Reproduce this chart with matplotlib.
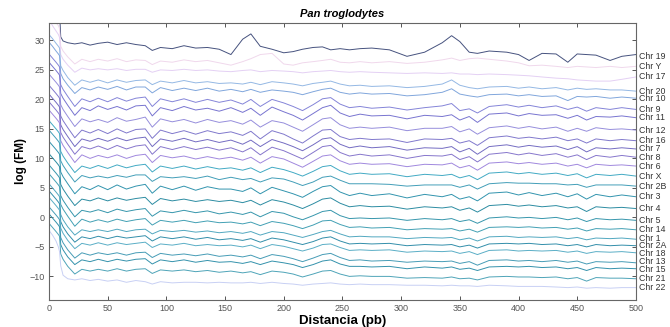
import numpy as np
import matplotlib
matplotlib.use('Agg')
import matplotlib.pyplot as plt

plt.rcParams['font.family'] = ['Liberation Sans', 'DejaVu Sans']

# posiciones (pb) donde se leyeron los valores
distancia = [0, 3, 6, 8, 9, 10, 12, 16, 22, 28,
             35, 42, 50, 58, 66, 74, 82, 88, 95, 105,
             115, 125, 135, 145, 155, 165, 172, 180, 190, 200,
             208, 216, 225, 233, 240, 248, 256, 265, 275, 290,
             305, 320, 335, 343, 350, 358, 365, 375, 390, 400,
             409, 420, 432, 442, 450, 458, 466, 478, 488, 500]

cromosomas = ['Chr 19', 'Chr Y', 'Chr 17', 'Chr 20', 'Chr 10', 'Chr 9', 'Chr 11',
              'Chr 12', 'Chr 16', 'Chr 7', 'Chr 8', 'Chr 6', 'Chr X', 'Chr 2B',
              'Chr 3', 'Chr 4', 'Chr 5', 'Chr 14', 'Chr 1', 'Chr 2A', 'Chr 18',
              'Chr 13', 'Chr 15', 'Chr 21', 'Chr 22']
# nivel final de cada curva
nivel_final = [27.3, 25.6, 23.8, 21.4, 20.2, 18.3, 16.9,
               14.8, 13.0, 11.6, 10.2, 8.7, 7.0, 5.3,
               3.5, 1.5, -0.5, -2.1, -3.7, -4.8, -6.0,
               -7.7, -8.7, -10.4, -11.9]
# altura de las etiquetas (un poco separadas donde se amontonan)
etiqueta_y = [27.3, 25.6, 23.8, 21.4, 20.1, 18.3, 16.9,
              14.8, 13.0, 11.6, 10.2, 8.7, 7.0, 5.3,
              3.5, 1.5, -0.5, -2.1, -3.5, -4.8, -6.1,
              -7.5, -8.8, -10.4, -11.9]
colores = ['#46527e', '#f0d8ec', '#e4d0f4', '#94b8e4', '#80a6dc', '#8484d8', '#7874d0',
           '#968edc', '#8078cc', '#746cc2', '#8676cc', '#a088de', '#42aac4', '#429eb8',
           '#3294ae', '#2c8ca2', '#3696ac', '#42a0b4', '#52a8c0', '#328eaa', '#5aaec6',
           '#469cb6', '#3492ac', '#4ea4b8', '#c8d0f4']

# log(FM) de cada curva, medido respecto a su nivel final
r_chr19 = [10.7, 9.7, 8.7, 8.2, 7.7, 3.3, 2.6, 2.3, 2.1, 2.3,
           1.9, 2.2, 2.4, 2.0, 2.3, 2.0, 1.8, 1.0, 1.5, 1.3,
           1.8, 1.4, 1.5, 1.2, 0.3, 2.9, 3.8, 1.7, 1.2, 0.6,
           0.8, 1.2, 1.5, 1.6, 1.1, 1.3, 1.1, 1.3, 1.4, 1.1,
           0.0, 0.7, 2.3, 3.5, 2.5, 0.7, 0.5, 0.9, 0.7, 0.3,
           -0.7, 0.5, 0.4, -1.0, 0.4, 0.3, 0.2, -0.7, 0.0, 0.3]
r_chrY = [9.4, 8.4, 7.4, 6.9, 6.4, 3.4, 2.6, 1.6, 0.4, 1.2,
          0.8, 1.2, 0.9, 1.3, 0.8, 1.1, 1.0, 0.3, 0.9, 0.7,
          1.1, 0.8, 1.0, 0.6, 0.2, 0.8, 1.3, 2.0, 2.2, 0.4,
          0.2, 0.6, 0.8, 1.0, 1.2, 0.7, 0.6, 0.8, 0.6, 0.8,
          0.5, 0.7, 1.1, 1.4, 1.0, 1.3, 1.4, 1.2, 0.9, 0.6,
          0.1, 0.2, 0.0, -0.2, 0.0, -0.1, -0.2, 0.0, -0.2, 0.0]
r_chr17 = [9.7, 8.7, 7.8, 7.2, 6.7, 3.8, 3.0, 2.0, 0.8, 1.5,
           1.2, 1.4, 1.2, 1.4, 1.1, 1.3, 1.3, 0.8, 1.2, 1.1,
           1.3, 1.1, 1.2, 1.0, 0.9, 1.1, 1.2, 0.9, 1.1, 1.0,
           0.9, 0.7, 0.9, 1.0, 1.1, 0.9, 0.8, 0.9, 0.8, 0.7,
           0.6, 0.7, 0.6, 0.7, 0.5, 0.5, 0.4, 0.5, 0.4, 0.3,
           0.2, 0.0, -0.2, -0.3, -0.5, -0.6, -0.7, -0.7, -0.4, 0.0]
r_chr20 = [9.6, 8.9, 8.1, 7.6, 7.3, 4.3, 3.5, 2.3, 1.0, 1.9,
           1.5, 1.9, 1.4, 1.9, 1.5, 1.8, 1.9, 1.1, 1.7, 1.4,
           1.8, 1.4, 1.6, 1.3, 1.4, 1.2, 1.5, 1.1, 1.6, 1.4,
           1.2, 0.9, 1.3, 1.5, 1.7, 1.2, 0.9, 1.0, 0.8, 0.9,
           0.6, 0.8, 1.2, 1.9, 1.0, 0.6, 0.4, 0.7, 0.8, 0.5,
           0.7, 0.4, 0.6, 0.2, 0.5, 0.3, 0.4, 0.2, 0.2, 0.0]
r_chr10 = [9.5, 8.8, 8.0, 7.5, 7.2, 4.2, 3.3, 2.2, 0.8, 1.8,
           1.4, 1.9, 1.5, 2.0, 1.4, 1.9, 1.9, 0.9, 1.8, 1.3,
           1.7, 1.3, 1.7, 1.2, 1.5, 1.1, 1.5, 1.0, 1.4, 1.2,
           1.0, 0.6, 1.1, 1.5, 1.7, 1.0, 0.7, 0.9, 0.7, 0.8,
           0.4, 0.6, 1.0, 1.6, 0.7, 0.4, 0.2, 0.6, 0.7, 0.4,
           0.6, 0.3, 0.4, -0.4, 0.3, 0.2, 0.3, 0.0, 0.2, 0.0]
r_chr9 = [9.4, 8.7, 8.0, 7.5, 7.2, 4.2, 3.4, 2.2, 0.5, 1.8,
          1.3, 1.9, 1.3, 2.0, 1.4, 1.9, 2.1, 0.5, 1.8, 1.3,
          1.8, 1.2, 1.7, 1.2, 1.6, 0.9, 1.7, 0.5, 1.7, 1.1,
          0.5, -0.2, 0.8, 1.8, 2.0, 0.9, 0.3, 0.5, 0.2, 0.4,
          -0.1, 0.3, 0.6, 1.0, -0.2, 0.1, -0.6, 0.5, 0.8, 0.4,
          0.7, 0.3, 0.6, 0.0, 0.4, -0.3, 0.3, 0.0, 0.3, 0.0]
r_chr11 = [9.4, 8.7, 8.0, 7.5, 7.2, 4.1, 3.3, 2.1, 0.4, 1.7,
           1.2, 2.0, 1.4, 1.9, 1.3, 2.0, 2.1, 0.3, 1.7, 1.2,
           1.9, 1.3, 1.6, 1.1, 1.7, 0.9, 1.6, 0.4, 1.8, 1.0,
           0.4, -0.4, 0.7, 1.7, 2.1, 0.8, 0.2, 0.6, 0.3, 0.4,
           -0.2, 0.4, 0.2, 0.5, -0.4, 0.2, -0.8, 0.6, 0.8, 0.3,
           0.7, 0.4, 0.5, -0.1, 0.4, -0.4, 0.2, 0.1, 0.3, 0.0]
r_chr12 = [9.5, 8.8, 8.1, 7.6, 7.3, 4.3, 3.5, 2.3, 0.6, 1.9,
           1.4, 1.8, 1.3, 2.1, 1.5, 1.8, 2.2, 0.5, 1.9, 1.4,
           1.8, 1.2, 1.8, 1.3, 1.6, 1.0, 1.7, 0.5, 1.6, 1.2,
           0.5, -0.2, 0.9, 1.9, 2.1, 0.9, 0.3, 0.5, 0.3, 0.5,
           -0.1, 0.3, 0.3, 0.6, -0.3, 0.2, -0.7, 0.4, 0.7, 0.3,
           0.6, 0.2, 0.5, -0.2, 0.3, -0.2, 0.4, 0.1, 0.2, 0.0]
r_chr16 = [9.4, 8.7, 8.0, 7.5, 7.2, 4.2, 3.4, 2.2, 0.5, 1.8,
           1.3, 1.9, 1.2, 2.0, 1.3, 1.9, 2.0, 0.4, 1.8, 1.2,
           1.7, 1.1, 1.7, 1.2, 1.5, 0.9, 1.6, 0.3, 1.7, 1.1,
           0.3, -0.4, 0.8, 1.8, 1.9, 0.7, 0.2, 0.4, 0.2, 0.3,
           -0.3, 0.3, 0.2, 0.4, -0.4, 0.0, -0.8, 0.5, 0.8, 0.4,
           0.6, 0.3, 0.6, 0.0, 0.3, -0.4, 0.3, 0.0, 0.2, 0.0]
r_chr7 = [9.3, 8.6, 7.9, 7.4, 7.1, 4.1, 3.3, 2.1, 0.4, 1.7,
          1.3, 1.8, 1.3, 1.9, 1.4, 1.8, 2.0, 0.4, 1.7, 1.3,
          1.8, 1.2, 1.6, 1.1, 1.5, 0.8, 1.5, 0.4, 1.6, 1.0,
          0.4, -0.3, 0.7, 1.7, 1.9, 0.8, 0.2, 0.5, 0.2, 0.4,
          -0.2, 0.2, 0.1, 0.4, -0.5, 0.1, -0.9, 0.4, 0.7, 0.3,
          0.6, 0.3, 0.5, -0.1, 0.4, -0.5, 0.2, 0.0, 0.2, 0.0]
r_chr8 = [9.4, 8.7, 8.0, 7.5, 7.2, 4.2, 3.4, 2.2, 0.5, 1.8,
          1.4, 1.9, 1.3, 2.0, 1.4, 1.9, 2.1, 0.5, 1.8, 1.3,
          1.8, 1.3, 1.7, 1.2, 1.6, 0.9, 1.6, 0.4, 1.7, 1.1,
          0.4, -0.3, 0.8, 1.8, 2.0, 0.8, 0.2, 0.5, 0.2, 0.4,
          -0.2, 0.3, 0.2, 0.5, -0.4, 0.1, -0.8, 0.5, 0.8, 0.4,
          0.7, 0.3, 0.6, 0.0, 0.4, -0.4, 0.3, 0.0, 0.3, 0.0]
r_chr6 = [9.5, 8.8, 8.1, 7.6, 7.3, 4.3, 3.5, 2.3, 0.6, 1.9,
          1.3, 1.8, 1.4, 1.9, 1.3, 1.8, 2.0, 0.6, 1.8, 1.4,
          1.7, 1.2, 1.6, 1.2, 1.5, 1.0, 1.5, 0.5, 1.6, 1.2,
          0.5, -0.2, 0.8, 1.7, 1.9, 0.9, 0.3, 0.5, 0.3, 0.4,
          -0.1, 0.3, 0.2, 0.5, -0.3, 0.1, -0.7, 0.5, 0.7, 0.4,
          0.6, 0.3, 0.5, 0.0, 0.3, -0.3, 0.3, 0.1, 0.2, 0.0]
r_chrX = [9.4, 8.7, 8.0, 7.5, 7.2, 4.2, 3.4, 2.2, 0.6, 1.7,
          1.3, 1.8, 1.3, 1.9, 1.4, 1.8, 2.0, 0.7, 1.7, 1.3,
          1.7, 1.2, 1.6, 1.2, 1.4, 1.0, 1.4, 0.6, 1.5, 1.1,
          0.6, 0.0, 0.8, 1.6, 1.8, 0.9, 0.3, 0.5, 0.3, 0.4,
          -0.1, 0.3, 0.1, 0.3, -0.3, 0.1, -0.6, 0.5, 0.7, 0.4,
          0.6, 0.3, 0.5, 0.1, 0.4, -0.3, 0.3, 0.1, 0.3, 0.0]
r_chr2B = [9.5, 8.8, 8.1, 7.6, 7.3, 4.3, 3.5, 2.3, 0.7, 1.8,
           1.4, 1.7, 1.4, 1.8, 1.5, 1.9, 1.9, 0.8, 1.6, 1.4,
           1.6, 1.3, 1.7, 1.1, 1.5, 1.1, 1.3, 0.7, 1.4, 1.2,
           0.7, 0.1, 0.7, 1.5, 1.7, 1.0, 0.4, 0.4, 0.4, 0.3,
           0.0, 0.2, 0.2, 0.2, -0.2, 0.2, -0.5, 0.4, 0.6, 0.5,
           0.5, 0.4, 0.4, 0.2, 0.3, -0.2, 0.2, 0.2, 0.2, 0.0]
r_chr3 = [9.4, 8.7, 8.0, 7.5, 7.2, 4.2, 3.4, 2.2, 0.5, 1.7,
          1.2, 1.9, 1.2, 2.0, 1.3, 1.8, 2.1, 0.6, 1.8, 1.2,
          1.8, 1.1, 1.7, 1.3, 1.3, 0.9, 1.5, 0.5, 1.6, 1.0,
          0.5, -0.1, 0.9, 1.7, 1.9, 0.8, 0.2, 0.6, 0.2, 0.5,
          -0.2, 0.4, 0.0, 0.4, -0.4, 0.0, -0.7, 0.6, 0.8, 0.3,
          0.7, 0.2, 0.6, 0.0, 0.5, -0.4, 0.4, 0.0, 0.3, 0.0]
r_chr4 = [9.3, 8.6, 7.9, 7.4, 7.1, 4.1, 3.3, 2.1, 0.5, 1.6,
          1.3, 1.8, 1.3, 1.8, 1.4, 1.7, 1.9, 0.7, 1.7, 1.3,
          1.6, 1.2, 1.5, 1.2, 1.4, 1.0, 1.4, 0.6, 1.5, 1.1,
          0.6, 0.0, 0.8, 1.6, 1.8, 0.9, 0.3, 0.5, 0.3, 0.4,
          -0.1, 0.3, 0.1, 0.3, -0.3, 0.1, -0.6, 0.5, 0.7, 0.4,
          0.6, 0.3, 0.5, 0.1, 0.3, -0.5, 0.3, 0.1, 0.2, 0.0]
r_chr5 = [9.4, 8.7, 8.0, 7.5, 7.2, 4.2, 3.4, 2.2, 0.6, 1.7,
          1.4, 1.8, 1.3, 1.9, 1.5, 1.8, 2.0, 0.7, 1.6, 1.3,
          1.7, 1.3, 1.6, 1.1, 1.4, 1.0, 1.4, 0.6, 1.5, 1.2,
          0.6, 0.1, 0.8, 1.5, 1.7, 0.8, 0.3, 0.4, 0.3, 0.4,
          0.0, 0.3, 0.1, 0.3, -0.2, 0.1, -0.5, 0.4, 0.6, 0.4,
          0.5, 0.3, 0.5, 0.1, 0.4, -0.2, 0.3, 0.1, 0.2, 0.0]
r_chr14 = [9.5, 8.8, 8.1, 7.6, 7.3, 4.3, 3.5, 2.3, 0.6, 1.8,
           1.3, 1.7, 1.3, 1.8, 1.4, 1.7, 1.9, 0.8, 1.6, 1.3,
           1.6, 1.2, 1.5, 1.2, 1.3, 1.0, 1.3, 0.7, 1.4, 1.1,
           0.7, 0.2, 0.8, 1.5, 1.6, 0.9, 0.4, 0.5, 0.3, 0.4,
           0.0, 0.2, 0.1, 0.2, -0.2, 0.1, -0.4, 0.4, 0.5, 0.4,
           0.5, 0.3, 0.4, 0.1, 0.3, -0.2, 0.2, 0.1, 0.2, 0.0]
r_chr1 = [9.4, 8.7, 8.0, 7.5, 7.2, 4.2, 3.3, 2.1, 0.7, 1.6,
          1.3, 1.6, 1.3, 1.7, 1.3, 1.6, 1.7, 0.9, 1.5, 1.3,
          1.5, 1.2, 1.4, 1.1, 1.3, 1.0, 1.3, 0.7, 1.3, 1.1,
          0.7, 0.3, 0.8, 1.3, 1.5, 0.9, 0.4, 0.5, 0.4, 0.4,
          0.1, 0.3, 0.2, 0.3, -0.1, 0.2, -0.3, 0.4, 0.5, 0.3,
          0.4, 0.3, 0.4, 0.1, 0.3, -0.1, 0.2, 0.1, 0.2, 0.0]
r_chr2A = [9.3, 8.6, 7.9, 7.4, 7.1, 4.1, 3.2, 2.0, 0.6, 1.5,
           1.2, 1.6, 1.2, 1.6, 1.3, 1.5, 1.7, 0.8, 1.5, 1.2,
           1.5, 1.1, 1.4, 1.0, 1.2, 0.9, 1.2, 0.6, 1.3, 1.0,
           0.6, 0.2, 0.7, 1.3, 1.5, 0.8, 0.3, 0.4, 0.3, 0.4,
           0.0, 0.2, 0.1, 0.2, -0.2, 0.1, -0.4, 0.3, 0.4, 0.3,
           0.4, 0.2, 0.3, 0.0, 0.2, -0.2, 0.2, 0.0, 0.1, 0.0]
r_chr18 = [9.4, 8.7, 8.0, 7.5, 7.2, 4.2, 3.3, 2.1, 0.7, 1.6,
           1.3, 1.7, 1.3, 1.7, 1.4, 1.6, 1.8, 0.9, 1.5, 1.3,
           1.6, 1.2, 1.4, 1.2, 1.3, 1.0, 1.3, 0.7, 1.4, 1.1,
           0.7, 0.3, 0.8, 1.4, 1.5, 0.9, 0.4, 0.5, 0.4, 0.5,
           0.1, 0.3, 0.2, 0.3, -0.1, 0.2, -0.3, 0.4, 0.5, 0.3,
           0.4, 0.3, 0.4, 0.1, 0.3, -0.1, 0.2, 0.1, 0.2, 0.0]
r_chr13 = [9.5, 8.8, 8.1, 7.6, 7.3, 4.3, 3.4, 2.2, 0.8, 1.7,
           1.3, 1.7, 1.4, 1.7, 1.3, 1.7, 1.8, 0.9, 1.6, 1.3,
           1.5, 1.2, 1.5, 1.1, 1.3, 1.0, 1.3, 0.7, 1.4, 1.1,
           0.7, 0.2, 0.8, 1.4, 1.6, 0.9, 0.4, 0.5, 0.3, 0.4,
           0.1, 0.3, 0.2, 0.3, -0.1, 0.2, -0.4, 0.4, 0.5, 0.3,
           0.4, 0.2, 0.4, 0.1, 0.3, -0.2, 0.2, 0.1, 0.2, 0.0]
r_chr15 = [9.3, 8.6, 7.9, 7.4, 7.1, 4.1, 3.2, 2.0, 0.7, 1.5,
           1.2, 1.6, 1.2, 1.6, 1.3, 1.6, 1.7, 0.8, 1.5, 1.2,
           1.5, 1.1, 1.4, 1.1, 1.2, 0.9, 1.2, 0.7, 1.3, 1.0,
           0.7, 0.2, 0.7, 1.3, 1.5, 0.8, 0.4, 0.4, 0.3, 0.4,
           0.0, 0.3, 0.1, 0.3, -0.1, 0.1, -0.3, 0.3, 0.4, 0.3,
           0.4, 0.2, 0.3, 0.0, 0.2, -0.3, 0.2, 0.0, 0.1, 0.0]
r_chr21 = [9.4, 8.7, 8.0, 7.5, 7.2, 4.2, 3.3, 2.1, 0.8, 1.6,
           1.3, 1.6, 1.3, 1.7, 1.3, 1.6, 1.7, 0.9, 1.5, 1.3,
           1.5, 1.2, 1.4, 1.1, 1.3, 1.0, 1.2, 0.7, 1.3, 1.1,
           0.8, 0.3, 0.8, 1.3, 1.4, 0.8, 0.4, 0.5, 0.4, 0.4,
           0.1, 0.2, 0.1, 0.3, 0.0, 0.1, -0.2, 0.3, 0.4, 0.3,
           0.3, 0.2, 0.3, 0.0, 0.2, -0.4, 0.2, 0.1, 0.1, 0.0]
r_chr22 = [9.7, 8.9, 7.9, 6.9, 6.1, 3.7, 2.1, 1.5, 1.3, 1.5,
           1.2, 1.4, 1.1, 1.3, 0.9, 1.2, 1.0, 0.6, 1.0, 0.8,
           0.9, 0.9, 0.8, 0.9, 0.8, 0.8, 0.9, 0.7, 0.9, 0.7,
           0.6, 0.4, 0.6, 0.7, 0.8, 0.6, 0.5, 0.6, 0.5, 0.5,
           0.4, 0.4, 0.3, 0.4, 0.3, 0.3, 0.2, 0.4, 0.3, 0.2,
           0.2, 0.2, 0.1, 0.0, 0.1, -0.1, 0.0, -0.1, 0.0, 0.0]

curvas = [r_chr19, r_chrY, r_chr17, r_chr20, r_chr10, r_chr9, r_chr11,
          r_chr12, r_chr16, r_chr7, r_chr8, r_chr6, r_chrX, r_chr2B,
          r_chr3, r_chr4, r_chr5, r_chr14, r_chr1, r_chr2A, r_chr18,
          r_chr13, r_chr15, r_chr21, r_chr22]

fig = plt.figure(figsize=(6.7, 3.27), dpi=100)
ax = fig.add_axes([0.0731, 0.0826, 0.876, 0.848])

for nombre, nivel, ye, valores, color in zip(cromosomas, nivel_final, etiqueta_y,
                                              curvas, colores):
    y = nivel + np.array(valores)
    ax.plot(distancia, y, color=color, lw=0.7)
    ax.text(502.5, ye, nombre, fontsize=6.3, ha='left', va='center',
            color='#333333', clip_on=False)

ax.set_xlim(0, 500)
ax.set_ylim(-14, 33)
ax.set_xticks(range(0, 501, 50))
ax.set_yticks(range(-10, 31, 5))
ax.tick_params(direction='in', top=True, right=True, length=3, width=0.7,
               labelsize=6.5, colors='#555555', pad=3)
for sp in ax.spines.values():
    sp.set_color('#666666')
    sp.set_linewidth(0.8)

ax.set_title('Pan troglodytes', fontsize=8, fontstyle='italic', fontweight='bold', pad=4)
ax.set_xlabel('Distancia (pb)', fontsize=9.5, fontweight='bold', labelpad=1)
ax.set_ylabel('log (FM)', fontsize=8.5, fontweight='bold', labelpad=2)

fig.savefig('out.png', dpi=100)
